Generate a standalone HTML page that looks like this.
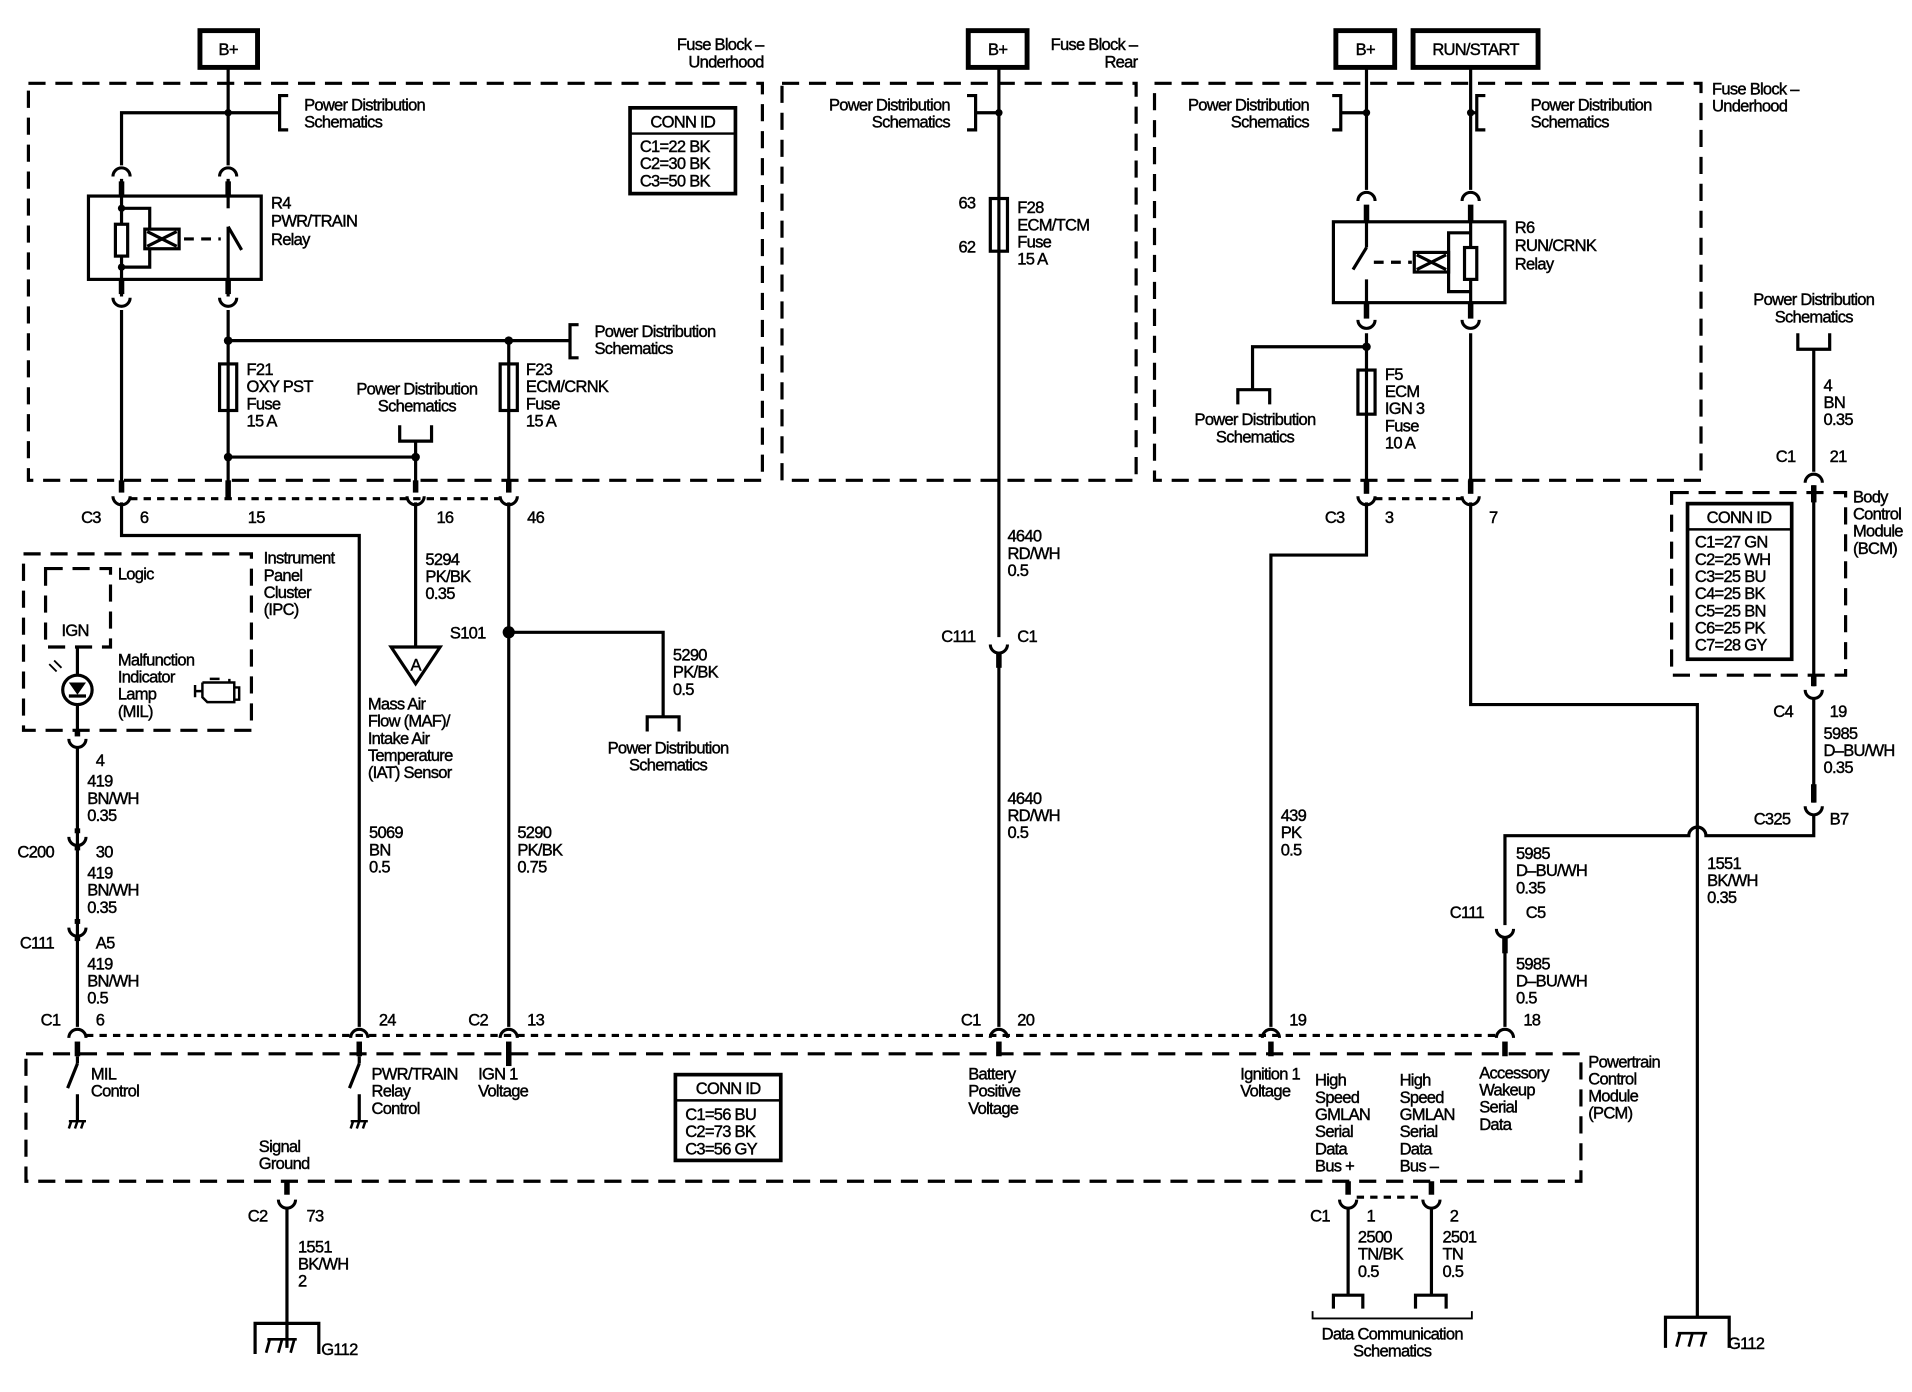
<!DOCTYPE html>
<html><head><meta charset="utf-8"><style>
html,body{margin:0;padding:0;background:#fff;}
svg{display:block;}
text{font-family:"Liberation Sans",Arial,sans-serif;font-size:13.5px;letter-spacing:-0.6px;fill:#000;stroke:#000;stroke-width:0.35px;}
</style></head><body>
<svg width="1912" height="1392" viewBox="0 0 1560 1136" xmlns="http://www.w3.org/2000/svg">
<defs>
<path id="cu" d="M-7,-4 A7,7 0 0 0 7,-4" fill="none" stroke="#000" stroke-width="2.5"/>
<path id="cn" d="M-7,4 A7,7 0 0 1 7,4" fill="none" stroke="#000" stroke-width="2.5"/>
</defs>
<rect width="1560" height="1136" fill="#fff"/>
<g fill="none" stroke="#000" stroke-width="2.6">
<g stroke-dasharray="14 8">
<rect x="23" y="68" width="599" height="324"/>
<rect x="638" y="68" width="289" height="324"/>
<rect x="942" y="68" width="446" height="324"/>
<rect x="19" y="452" width="186" height="144"/>
<rect x="37" y="464" width="53" height="64"/>
<rect x="21" y="860" width="1269" height="104"/>
<rect x="1364" y="402" width="142" height="149"/>
</g>
<g stroke-dasharray="6 5">
<line x1="106" y1="407" x2="408" y2="407"/>
<line x1="1122" y1="407" x2="1193" y2="407"/>
<line x1="70" y1="845" x2="1221" y2="845"/>
<line x1="1107" y1="977" x2="1161" y2="977"/>
</g>
<g stroke-width="4">
<rect x="163" y="25" width="47" height="30"/>
<rect x="790" y="25" width="48" height="30"/>
<rect x="1090" y="25" width="48" height="30"/>
<rect x="1153" y="25" width="102" height="30"/>
</g>
<polyline points="186,55 186,135"/>
<polyline points="99,135 99,92 228,92"/>
<polyline points="235,78 228,78 228,106 235,106"/>
<line x1="99" y1="146" x2="99" y2="242"/><line x1="186" y1="146" x2="186" y2="242"/>
<rect x="72" y="160" width="141" height="68"/>
<rect x="94" y="183" width="10" height="26" fill="#fff"/>
<polyline points="99,170 122,170 122,218 99,218"/>
<rect x="118" y="187" width="28" height="16" fill="#fff"/>
<line x1="120" y1="189" x2="144" y2="201"/><line x1="120" y1="201" x2="144" y2="189"/>
<line x1="150" y1="195" x2="180" y2="195" stroke-dasharray="8 6"/>
<line x1="186" y1="170" x2="186" y2="185" stroke="#fff" stroke-width="4"/>
<line x1="186" y1="185" x2="197" y2="204"/>
<line x1="99" y1="253" x2="99" y2="400"/>
<line x1="186" y1="253" x2="186" y2="408"/>
<polyline points="186,278 465,278"/>
<polyline points="472,265 465,265 465,292 472,292"/>
<line x1="415" y1="278" x2="415" y2="400"/>
<rect x="179" y="297" width="14" height="38" fill="#fff"/>
<rect x="408" y="297" width="14" height="38" fill="#fff"/>
<line x1="186" y1="297" x2="186" y2="335"/><line x1="415" y1="297" x2="415" y2="335"/>
<polyline points="326,347 326,360 352,360 352,347"/>
<polyline points="339,360 339,400"/>
<line x1="186" y1="373" x2="339" y2="373"/>
<g stroke-width="4.5">
<line x1="99" y1="392" x2="99" y2="402"/><line x1="186" y1="392" x2="186" y2="408"/>
<line x1="339" y1="392" x2="339" y2="402"/><line x1="415" y1="392" x2="415" y2="402"/>
<line x1="99" y1="148" x2="99" y2="160"/><line x1="186" y1="148" x2="186" y2="160"/>
<line x1="99" y1="228" x2="99" y2="240"/><line x1="186" y1="228" x2="186" y2="240"/>
</g>
<polyline points="99,410 99,437 293,437 293,838"/>
<line x1="339" y1="410" x2="339" y2="528"/>
<polygon points="319,528 359,528 339,558"/>
<line x1="415" y1="410" x2="415" y2="838"/>
<polyline points="415,516 541,516 541,585"/>
<polyline points="528,597 528,585 554,585 554,597"/>
<line x1="63" y1="528" x2="63" y2="551"/>
<circle cx="63" cy="563" r="12"/>
<line x1="63" y1="575" x2="63" y2="600"/>
<line x1="63" y1="610" x2="63" y2="838"/>
<line x1="56" y1="568" x2="70" y2="568"/>
<line x1="46" y1="548" x2="40" y2="542" stroke-width="1.5"/><line x1="50" y1="545" x2="44" y2="539" stroke-width="1.5"/>
<path d="M159,559 v10 M159,564 h6 M165,557 h22 v-3 M171,554 h8 M187,557 l4,0 v16 h-22 l-4,-4 v-12 M191,561 h4 v10 h-4" stroke-width="2"/>
<g stroke-width="4.5">
<line x1="63" y1="596" x2="63" y2="601"/>
<line x1="63" y1="676" x2="63" y2="680"/><line x1="63" y1="689" x2="63" y2="694"/>
<line x1="63" y1="750" x2="63" y2="754"/><line x1="63" y1="763" x2="63" y2="768"/>
</g>
<line x1="815" y1="55" x2="815" y2="520"/>
<line x1="815" y1="92" x2="796" y2="92"/>
<polyline points="789,78 796,78 796,106 789,106"/>
<rect x="808" y="162" width="14" height="43" fill="#fff"/><line x1="815" y1="162" x2="815" y2="205"/>
<line x1="815" y1="532" x2="815" y2="838"/>
<line x1="815" y1="532" x2="815" y2="545" stroke-width="4.5"/>
<line x1="1115" y1="55" x2="1115" y2="155"/><line x1="1200" y1="55" x2="1200" y2="155"/>
<line x1="1115" y1="92" x2="1094" y2="92"/><polyline points="1087,78 1094,78 1094,106 1087,106"/>
<line x1="1200" y1="92" x2="1205" y2="92"/><polyline points="1212,78 1205,78 1205,106 1212,106"/>
<rect x="1088" y="181" width="140" height="66"/>
<g stroke-width="4.5">
<line x1="1115" y1="167" x2="1115" y2="181"/><line x1="1200" y1="167" x2="1200" y2="181"/>
<line x1="1115" y1="247" x2="1115" y2="260"/><line x1="1200" y1="247" x2="1200" y2="260"/>
<line x1="1115" y1="392" x2="1115" y2="403"/><line x1="1200" y1="392" x2="1200" y2="403"/>
</g>
<line x1="1115" y1="181" x2="1115" y2="202"/><line x1="1115" y1="202" x2="1104" y2="220"/><line x1="1115" y1="228" x2="1115" y2="247"/>
<line x1="1121" y1="214" x2="1152" y2="214" stroke-dasharray="8 6"/>
<rect x="1154" y="206" width="28" height="16" fill="#fff"/>
<line x1="1156" y1="208" x2="1180" y2="220"/><line x1="1156" y1="220" x2="1180" y2="208"/>
<polyline points="1200,190 1182,190 1182,238 1200,238"/>
<line x1="1200" y1="181" x2="1200" y2="247"/>
<rect x="1195" y="202" width="10" height="26" fill="#fff"/>
<line x1="1115" y1="272" x2="1115" y2="400"/>
<polyline points="1115,283 1022,283 1022,318"/>
<polyline points="1010,330 1010,318 1036,318 1036,330"/>
<rect x="1108" y="302" width="14" height="36" fill="#fff"/><line x1="1115" y1="302" x2="1115" y2="338"/>
<line x1="1200" y1="272" x2="1200" y2="400"/>
<polyline points="1115,410 1115,453 1037,453 1037,838"/>
<polyline points="1200,410 1200,575 1385,575 1385,1075"/>
<polyline points="1467,272 1467,285 1493,285 1493,272"/>
<line x1="1480" y1="285" x2="1480" y2="385"/>
<line x1="1480" y1="396" x2="1480" y2="560"/>
<line x1="1480" y1="570" x2="1480" y2="655"/>
<line x1="1480" y1="396" x2="1480" y2="410" stroke-width="4.5"/>
<line x1="1480" y1="551" x2="1480" y2="560" stroke-width="4.5"/>
<line x1="1480" y1="640" x2="1480" y2="655" stroke-width="4.5"/>
<path d="M1480,665 V682 H1392 A7,7 0 0 0 1378,682 H1228 V755"/>
<line x1="1228" y1="765" x2="1228" y2="838"/>
<line x1="1228" y1="765" x2="1228" y2="778" stroke-width="4.5"/>
<rect x="1377" y="411" width="85" height="127" stroke-width="3"/>
<line x1="1377" y1="432" x2="1462" y2="432" stroke-width="2"/>
<rect x="514" y="88" width="86" height="70" stroke-width="3"/><line x1="514" y1="109" x2="600" y2="109" stroke-width="2"/>
<rect x="551" y="877" width="86" height="70" stroke-width="3"/><line x1="551" y1="898" x2="637" y2="898" stroke-width="2"/>
<g stroke-width="4.5">
<line x1="63" y1="850" x2="63" y2="862"/><line x1="293" y1="850" x2="293" y2="862"/>
<line x1="415" y1="850" x2="415" y2="870"/><line x1="815" y1="850" x2="815" y2="862"/>
<line x1="1037" y1="850" x2="1037" y2="862"/><line x1="1228" y1="850" x2="1228" y2="862"/>
<line x1="234" y1="964" x2="234" y2="975"/>
<line x1="1100" y1="964" x2="1100" y2="975"/><line x1="1168" y1="964" x2="1168" y2="975"/>
</g>
<line x1="63" y1="862" x2="63" y2="868"/><line x1="63" y1="868" x2="55" y2="888"/>
<line x1="63" y1="893" x2="63" y2="915"/>
<path d="M56,915 h14 M58,915 l-2,6 M63,915 l-2,6 M68,915 l-2,6" stroke-width="2"/>
<line x1="293" y1="862" x2="293" y2="868"/><line x1="293" y1="868" x2="285" y2="888"/>
<line x1="293" y1="893" x2="293" y2="915"/>
<path d="M286,915 h14 M288,915 l-2,6 M293,915 l-2,6 M298,915 l-2,6" stroke-width="2"/>
<line x1="234" y1="985" x2="234" y2="1100"/>
<polyline points="208,1105 208,1080 260,1080 260,1105"/>
<path d="M217,1104 l3,-11 M227,1104 l3,-11 M237,1104 l3,-11 M218,1093 h24" stroke-width="2.2"/>
<polyline points="1359,1100 1359,1075 1411,1075 1411,1100"/>
<path d="M1368,1099 l3,-11 M1378,1099 l3,-11 M1388,1099 l3,-11 M1369,1088 h24" stroke-width="2.2"/>
<line x1="1100" y1="985" x2="1100" y2="1057"/><line x1="1168" y1="985" x2="1168" y2="1057"/>
<polyline points="1088,1068 1088,1057 1112,1057 1112,1068"/>
<polyline points="1155,1068 1155,1057 1180,1057 1180,1068"/>
<polyline points="1071,1070 1071,1076 1201,1076 1201,1070" stroke-width="1.5"/>
</g>
<g fill="#000">
<circle cx="186" cy="92" r="3"/><circle cx="186" cy="278" r="3.5"/><circle cx="415" cy="278" r="3.5"/>
<circle cx="186" cy="373" r="3.5"/><circle cx="339" cy="373" r="3.5"/><circle cx="415" cy="516" r="5"/>
<circle cx="815" cy="92" r="3"/><circle cx="1115" cy="92" r="3"/><circle cx="1200" cy="92" r="3"/>
<circle cx="1115" cy="283" r="3.5"/><circle cx="99" cy="170" r="3"/><circle cx="99" cy="218" r="3"/>
<polygon points="56,557 70,557 63,567"/>
</g>
<g>
<use href="#cn" x="99" y="140"/><use href="#cn" x="186" y="140"/>
<use href="#cu" x="99" y="247"/><use href="#cu" x="186" y="247"/>
<use href="#cu" x="99" y="409"/><use href="#cu" x="339" y="409"/><use href="#cu" x="415" y="409"/>
<use href="#cn" x="1115" y="160"/><use href="#cn" x="1200" y="160"/>
<use href="#cu" x="1115" y="265"/><use href="#cu" x="1200" y="265"/>
<use href="#cu" x="1115" y="409"/><use href="#cu" x="1200" y="409"/>
<use href="#cu" x="63" y="607"/><use href="#cu" x="63" y="687"/><use href="#cu" x="63" y="761"/>
<use href="#cn" x="63" y="843"/><use href="#cn" x="293" y="843"/><use href="#cn" x="415" y="843"/>
<use href="#cn" x="815" y="843"/><use href="#cn" x="1037" y="843"/><use href="#cn" x="1228" y="843"/>
<use href="#cu" x="815" y="530"/><use href="#cu" x="1228" y="762"/>
<use href="#cn" x="1480" y="390"/><use href="#cu" x="1480" y="567"/><use href="#cu" x="1480" y="662"/>
<use href="#cu" x="234" y="983"/><use href="#cu" x="1100" y="983"/><use href="#cu" x="1168" y="983"/>
</g>
<g>
<text x="186" y="45" text-anchor="middle">B+</text>
<text x="814" y="45" text-anchor="middle">B+</text>
<text x="1114" y="45" text-anchor="middle">B+</text>
<text x="1204" y="45" text-anchor="middle">RUN/START</text>
<text x="623" y="41" text-anchor="end">Fuse Block –</text><text x="623" y="55" text-anchor="end">Underhood</text>
<text x="928" y="41" text-anchor="end">Fuse Block –</text><text x="928" y="55" text-anchor="end">Rear</text>
<text x="1397" y="77">Fuse Block –</text><text x="1397" y="91">Underhood</text>
<text x="248" y="90">Power Distribution</text><text x="248" y="104">Schematics</text>
<text x="557" y="104" text-anchor="middle">CONN ID</text>
<text x="522" y="124">C1=22 BK</text><text x="522" y="138">C2=30 BK</text><text x="522" y="152">C3=50 BK</text>
<text x="221" y="170">R4</text><text x="221" y="185">PWR/TRAIN</text><text x="221" y="200">Relay</text>
<text x="485" y="275">Power Distribution</text><text x="485" y="289">Schematics</text>
<text x="201" y="306">F21</text><text x="201" y="320">OXY PST</text><text x="201" y="334">Fuse</text><text x="201" y="348">15 A</text>
<text x="429" y="306">F23</text><text x="429" y="320">ECM/CRNK</text><text x="429" y="334">Fuse</text><text x="429" y="348">15 A</text>
<text x="340" y="322" text-anchor="middle">Power Distribution</text><text x="340" y="336" text-anchor="middle">Schematics</text>
<text x="66" y="427">C3</text><text x="114" y="427">6</text><text x="202" y="427">15</text><text x="356" y="427">16</text><text x="430" y="427">46</text>
<text x="215" y="460">Instrument</text><text x="215" y="474">Panel</text><text x="215" y="488">Cluster</text><text x="215" y="502">(IPC)</text>
<text x="96" y="473">Logic</text><text x="50" y="519">IGN</text>
<text x="96" y="543">Malfunction</text><text x="96" y="557">Indicator</text><text x="96" y="571">Lamp</text><text x="96" y="585">(MIL)</text>
<text x="347" y="461">5294</text><text x="347" y="475">PK/BK</text><text x="347" y="489">0.35</text>
<text x="339" y="547" text-anchor="middle">A</text>
<text x="300" y="579">Mass Air</text><text x="300" y="593">Flow (MAF)/</text><text x="300" y="607">Intake Air</text><text x="300" y="621">Temperature</text><text x="300" y="635">(IAT) Sensor</text>
<text x="367" y="521">S101</text>
<text x="549" y="539">5290</text><text x="549" y="553">PK/BK</text><text x="549" y="567">0.5</text>
<text x="545" y="615" text-anchor="middle">Power Distribution</text><text x="545" y="629" text-anchor="middle">Schematics</text>
<text x="301" y="684">5069</text><text x="301" y="698">BN</text><text x="301" y="712">0.5</text>
<text x="422" y="684">5290</text><text x="422" y="698">PK/BK</text><text x="422" y="712">0.75</text>
<text x="78" y="625">4</text>
<text x="71" y="642">419</text><text x="71" y="656">BN/WH</text><text x="71" y="670">0.35</text>
<text x="14" y="700">C200</text><text x="78" y="700">30</text>
<text x="71" y="717">419</text><text x="71" y="731">BN/WH</text><text x="71" y="745">0.35</text>
<text x="16" y="774">C111</text><text x="78" y="774">A5</text>
<text x="71" y="791">419</text><text x="71" y="805">BN/WH</text><text x="71" y="819">0.5</text>
<text x="33" y="837">C1</text><text x="78" y="837">6</text><text x="309" y="837">24</text>
<text x="382" y="837">C2</text><text x="430" y="837">13</text>
<text x="784" y="837">C1</text><text x="830" y="837">20</text><text x="1052" y="837">19</text><text x="1243" y="837">18</text>
<text x="74" y="881">MIL</text><text x="74" y="895">Control</text>
<text x="303" y="881">PWR/TRAIN</text><text x="303" y="895">Relay</text><text x="303" y="909">Control</text>
<text x="390" y="881">IGN 1</text><text x="390" y="895">Voltage</text>
<text x="594" y="893" text-anchor="middle">CONN ID</text>
<text x="559" y="914">C1=56 BU</text><text x="559" y="928">C2=73 BK</text><text x="559" y="942">C3=56 GY</text>
<text x="211" y="940">Signal</text><text x="211" y="954">Ground</text>
<text x="202" y="997">C2</text><text x="250" y="997">73</text>
<text x="243" y="1022">1551</text><text x="243" y="1036">BK/WH</text><text x="243" y="1050">2</text>
<text x="262" y="1106">G112</text>
<text x="775" y="90" text-anchor="end">Power Distribution</text><text x="775" y="104" text-anchor="end">Schematics</text>
<text x="782" y="170">63</text><text x="782" y="206">62</text>
<text x="830" y="174">F28</text><text x="830" y="188">ECM/TCM</text><text x="830" y="202">Fuse</text><text x="830" y="216">15 A</text>
<text x="822" y="442">4640</text><text x="822" y="456">RD/WH</text><text x="822" y="470">0.5</text>
<text x="768" y="524">C111</text><text x="830" y="524">C1</text>
<text x="822" y="656">4640</text><text x="822" y="670">RD/WH</text><text x="822" y="684">0.5</text>
<text x="790" y="881">Battery</text><text x="790" y="895">Positive</text><text x="790" y="909">Voltage</text>
<text x="1068" y="90" text-anchor="end">Power Distribution</text><text x="1068" y="104" text-anchor="end">Schematics</text>
<text x="1249" y="90">Power Distribution</text><text x="1249" y="104">Schematics</text>
<text x="1236" y="190">R6</text><text x="1236" y="205">RUN/CRNK</text><text x="1236" y="220">Relay</text>
<text x="1024" y="347" text-anchor="middle">Power Distribution</text><text x="1024" y="361" text-anchor="middle">Schematics</text>
<text x="1130" y="310">F5</text><text x="1130" y="324">ECM</text><text x="1130" y="338">IGN 3</text><text x="1130" y="352">Fuse</text><text x="1130" y="366">10 A</text>
<text x="1081" y="427">C3</text><text x="1130" y="427">3</text><text x="1215" y="427">7</text>
<text x="1045" y="670">439</text><text x="1045" y="684">PK</text><text x="1045" y="698">0.5</text>
<text x="1480" y="249" text-anchor="middle">Power Distribution</text><text x="1480" y="263" text-anchor="middle">Schematics</text>
<text x="1488" y="319">4</text><text x="1488" y="333">BN</text><text x="1488" y="347">0.35</text>
<text x="1449" y="377">C1</text><text x="1493" y="377">21</text>
<text x="1512" y="410">Body</text><text x="1512" y="424">Control</text><text x="1512" y="438">Module</text><text x="1512" y="452">(BCM)</text>
<text x="1419" y="427" text-anchor="middle">CONN ID</text>
<text x="1383" y="447">C1=27 GN</text><text x="1383" y="461">C2=25 WH</text><text x="1383" y="475">C3=25 BU</text><text x="1383" y="489">C4=25 BK</text><text x="1383" y="503">C5=25 BN</text><text x="1383" y="517">C6=25 PK</text><text x="1383" y="531">C7=28 GY</text>
<text x="1447" y="585">C4</text><text x="1493" y="585">19</text>
<text x="1488" y="603">5985</text><text x="1488" y="617">D–BU/WH</text><text x="1488" y="631">0.35</text>
<text x="1431" y="673">C325</text><text x="1493" y="673">B7</text>
<text x="1393" y="709">1551</text><text x="1393" y="723">BK/WH</text><text x="1393" y="737">0.35</text>
<text x="1237" y="701">5985</text><text x="1237" y="715">D–BU/WH</text><text x="1237" y="729">0.35</text>
<text x="1183" y="749">C111</text><text x="1245" y="749">C5</text>
<text x="1237" y="791">5985</text><text x="1237" y="805">D–BU/WH</text><text x="1237" y="819">0.5</text>
<text x="1012" y="881">Ignition 1</text><text x="1012" y="895">Voltage</text>
<text x="1073" y="886">High</text><text x="1073" y="900">Speed</text><text x="1073" y="914">GMLAN</text><text x="1073" y="928">Serial</text><text x="1073" y="942">Data</text><text x="1073" y="956">Bus +</text>
<text x="1142" y="886">High</text><text x="1142" y="900">Speed</text><text x="1142" y="914">GMLAN</text><text x="1142" y="928">Serial</text><text x="1142" y="942">Data</text><text x="1142" y="956">Bus –</text>
<text x="1207" y="880">Accessory</text><text x="1207" y="894">Wakeup</text><text x="1207" y="908">Serial</text><text x="1207" y="922">Data</text>
<text x="1296" y="871">Powertrain</text><text x="1296" y="885">Control</text><text x="1296" y="899">Module</text><text x="1296" y="913">(PCM)</text>
<text x="1069" y="997">C1</text><text x="1115" y="997">1</text><text x="1183" y="997">2</text>
<text x="1108" y="1014">2500</text><text x="1108" y="1028">TN/BK</text><text x="1108" y="1042">0.5</text>
<text x="1177" y="1014">2501</text><text x="1177" y="1028">TN</text><text x="1177" y="1042">0.5</text>
<text x="1136" y="1093" text-anchor="middle">Data Communication</text><text x="1136" y="1107" text-anchor="middle">Schematics</text>
<text x="1410" y="1101">G112</text>
</g>
</svg>
</body></html>
